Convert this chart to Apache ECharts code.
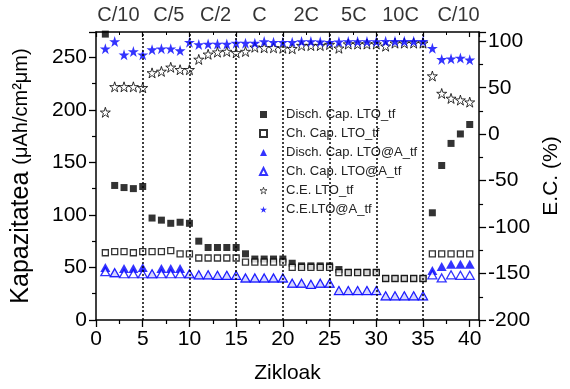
<!DOCTYPE html>
<html>
<head>
<meta charset="utf-8">
<script src="https://cdn.jsdelivr.net/npm/echarts@6/dist/echarts.min.js"></script>
<style>
  html, body { margin: 0; padding: 0; background: #fff; }
  #chart { width: 570px; height: 389px; }
</style>
</head>
<body>
<div id="chart"></div>
<script>
// Cycle numbers
const cycles = [1, 2, 3, 4, 5, 6, 7, 8, 9, 10, 11, 12, 13, 14, 15, 16, 17, 18, 19, 20,
                21, 22, 23, 24, 25, 26, 27, 28, 29, 30, 31, 32, 33, 34, 35, 36, 37, 38, 39, 40];

// Capacity (µAh/cm²µm)
const dischLTO = [272, 128, 126, 125, 127, 97, 95, 92, 93, 92,
                  75, 69, 69, 69, 69, 63, 58, 58, 58, 58,
                  54, 51.5, 51.5, 51.5, 51.5, 48, 45.5, 45.5, 45.5, 45.5,
                  39.5, 39.5, 39.5, 39.5, 39.5, 102, 147, 168, 177, 186];
const chLTO = [64, 65, 65, 64, 65, 65, 65, 66, 63, 63,
               59, 59, 59, 59, 59, 55, 55, 55, 55, 55,
               50, 50, 50, 50, 50, 45, 45, 45, 45, 45,
               39.5, 39.5, 39.5, 39.5, 39.5, 63, 63, 63, 63, 63];
const dischLTOA = [50, 45, 49, 49, 50, 44, 49, 49, 49, 44,
                   43, 43, 42.5, 42.5, 42.5, 40, 40, 40, 40, 40,
                   35, 35, 34, 35, 35, 28, 28, 28, 28, 28,
                   23, 23, 23, 23, 23, 47, 51, 53, 53, 53];
const chLTOA = [46, 45, 44, 44, 44, 44, 44, 44, 44, 44,
                43, 43, 42.5, 42.5, 42.5, 40, 40, 40, 40, 40,
                35, 35, 34, 35, 35, 28, 28, 28, 28, 28,
                23, 23, 23, 23, 23, 43, 40, 43, 42.5, 42.5];

// Coulombic efficiency (%)
const ceLTO = [23.6, 51, 51, 51, 50, 66, 67.6, 72, 69.4, 69.4,
               80.5, 86, 88.3, 89, 87.6, 89, 93.6, 93, 93, 92.5,
               92, 95.4, 95.4, 95.4, 96.5, 92.5, 97, 97, 97, 97,
               94.7, 98, 98, 98, 98, 62.6, 43.8, 38.5, 36.7, 34.5];
const ceLTOA = [92, 99.7, 85.5, 89, 85.5, 91, 92, 92, 90, 99,
                96.5, 97, 97, 97, 98, 98, 98, 99.7, 99, 99,
                99, 99.7, 99.7, 99.5, 99, 99.5, 99.7, 99.7, 99.7, 99.7,
                100, 100, 100, 100, 100, 92.5, 80.5, 81.2, 82, 80];

// C-rate blocks: label text and where it is written along the cycle axis
const rateLabels = ['C/10', 'C/5', 'C/2', 'C', '2C', '5C', '10C', 'C/10'];
const rateLabelCycles = [2.4, 7.8, 12.8, 17.5, 22.5, 27.6, 32.6, 38.8];
const rateLabelLevel = 290;
// Cycle numbers where the C-rate changes
const rateBoundaries = [5, 10, 15, 20, 25, 30, 35];

const seriesNames = ['Disch. Cap. LTO_tf', 'Ch. Cap. LTO_tf', 'Disch. Cap. LTO@A_tf',
                     'Ch. Cap. LTO@A_tf', 'C.E. LTO_tf', 'C.E.LTO@A_tf'];

const FONT = 'Liberation Sans, Arial, sans-serif';
const BLUE = '#0000ff';
const STAR = 'path://M50,0 L61.2,34.5 L97.6,34.5 L68.2,55.9 L79.4,90.5 L50,69.1 L20.6,90.5 L31.8,55.9 L2.4,34.5 L38.8,34.5 Z';

const pair = (ys) => cycles.map((c, i) => [c, ys[i]]);

const axisLineStyle = { show: true, onZero: false, lineStyle: { color: '#000', width: 1.5 } };
const tickLabel = { color: '#000', fontFamily: FONT, fontSize: 21 };

const chart = echarts.init(document.getElementById('chart'), null, { renderer: 'canvas' });

chart.setOption({
  animation: false,
  backgroundColor: '#fff',
  grid: { left: 96, right: 77, top: 32, bottom: 67, containLabel: false },
  legend: {
    orient: 'vertical',
    left: 254,
    top: 102,
    itemWidth: 7,
    itemHeight: 7,
    itemGap: 4,
    data: [
      { name: seriesNames[0] },
      { name: seriesNames[1] },
      { name: seriesNames[2] },
      { name: seriesNames[3] },
      { name: seriesNames[4], itemStyle: { color: '#fff', borderColor: '#000', borderWidth: 0.8 } },
      { name: seriesNames[5] }
    ],
    textStyle: { fontFamily: FONT, fontSize: 13, lineHeight: 15, color: '#222', padding: [0, 0, 0, 14] }
  },
  xAxis: [
    {
      type: 'value', min: 0, max: 41, interval: 5,
      name: 'Zikloak', nameLocation: 'middle', nameGap: 43,
      nameTextStyle: { fontFamily: FONT, fontSize: 21, color: '#000' },
      axisLine: axisLineStyle,
      axisTick: { show: true, length: 7, lineStyle: { color: '#000', width: 1.3 } },
      minorTick: { show: true, splitNumber: 2, length: 4, lineStyle: { color: '#000', width: 1.2 } },
      axisLabel: Object.assign({ margin: 9, showMaxLabel: false }, tickLabel),
      splitLine: { show: false }
    },
    {
      type: 'value', min: 0, max: 41, interval: 5, position: 'top',
      axisLine: axisLineStyle,
      axisTick: { show: true, inside: true, length: 5, lineStyle: { color: '#000', width: 1.2 } },
      minorTick: { show: true, splitNumber: 2, length: 3, lineStyle: { color: '#000', width: 1 } },
      axisLabel: { show: false },
      splitLine: { show: false }
    }
  ],
  yAxis: [
    {
      type: 'value', min: 0, max: 274, interval: 50,
      name: '{a|Kapazitatea }{b|(μAh/cm²μm)}',
      nameLocation: 'middle', nameGap: 62,
      nameTextStyle: {
        color: '#000',
        rich: {
          a: { fontFamily: FONT, fontSize: 25, color: '#000' },
          b: { fontFamily: FONT, fontSize: 20, color: '#000' }
        }
      },
      axisLine: axisLineStyle,
      axisTick: { show: true, length: 7, lineStyle: { color: '#000', width: 1.3 } },
      minorTick: { show: true, splitNumber: 2, length: 4, lineStyle: { color: '#000', width: 1.2 } },
      axisLabel: Object.assign({ margin: 9, showMaxLabel: false }, tickLabel),
      splitLine: { show: false }
    },
    {
      type: 'value', min: -200, max: 110, interval: 50, position: 'right',
      name: 'E.C. (%)', nameLocation: 'middle', nameGap: 55, nameRotate: 90,
      nameTextStyle: { fontFamily: FONT, fontSize: 21, color: '#000' },
      axisLine: axisLineStyle,
      axisTick: { show: true, length: 7, lineStyle: { color: '#000', width: 1.3 } },
      minorTick: { show: true, splitNumber: 2, length: 4, lineStyle: { color: '#000', width: 1.2 } },
      axisLabel: Object.assign({ margin: 9, showMaxLabel: false }, tickLabel),
      splitLine: { show: false }
    }
  ],
  series: [
    {
      name: seriesNames[0], type: 'scatter', yAxisIndex: 0,
      symbol: 'rect', symbolSize: 7,
      itemStyle: { color: '#000' },
      data: pair(dischLTO),
      markLine: {
        silent: true, symbol: 'none', animation: false,
        label: { show: false },
        lineStyle: { color: '#000', width: 1.5, type: [2, 2] },
        data: rateBoundaries.map((b) => ({ xAxis: b }))
      }
    },
    {
      name: seriesNames[1], type: 'scatter', yAxisIndex: 0,
      symbol: 'rect', symbolSize: 6,
      itemStyle: { color: '#fff', borderColor: '#000', borderWidth: 1.3 },
      data: pair(chLTO)
    },
    {
      name: seriesNames[2], type: 'scatter', yAxisIndex: 0,
      symbol: 'triangle', symbolSize: [10, 9],
      itemStyle: { color: BLUE },
      data: pair(dischLTOA)
    },
    {
      name: seriesNames[3], type: 'scatter', yAxisIndex: 0,
      symbol: 'triangle', symbolSize: [9, 8],
      itemStyle: { color: '#fff', borderColor: BLUE, borderWidth: 1.3 },
      data: pair(chLTOA)
    },
    {
      name: seriesNames[4], type: 'scatter', yAxisIndex: 1,
      symbol: STAR, symbolSize: 10,
      itemStyle: { color: '#fff', borderColor: '#000', borderWidth: 1 },
      data: pair(ceLTO)
    },
    {
      name: seriesNames[5], type: 'scatter', yAxisIndex: 1,
      symbol: STAR, symbolSize: 11,
      itemStyle: { color: BLUE },
      data: pair(ceLTOA)
    },
    {
      // C-rate captions above the plot frame
      type: 'scatter', yAxisIndex: 0, silent: true, clip: false,
      symbolSize: 0,
      data: rateLabelCycles.map((c, i) => [c, rateLabelLevel, rateLabels[i]]),
      label: {
        show: true, position: 'inside',
        formatter: (p) => p.value[2],
        fontFamily: FONT, fontSize: 20, color: '#000'
      }
    }
  ]
});
</script>
</body>
</html>
